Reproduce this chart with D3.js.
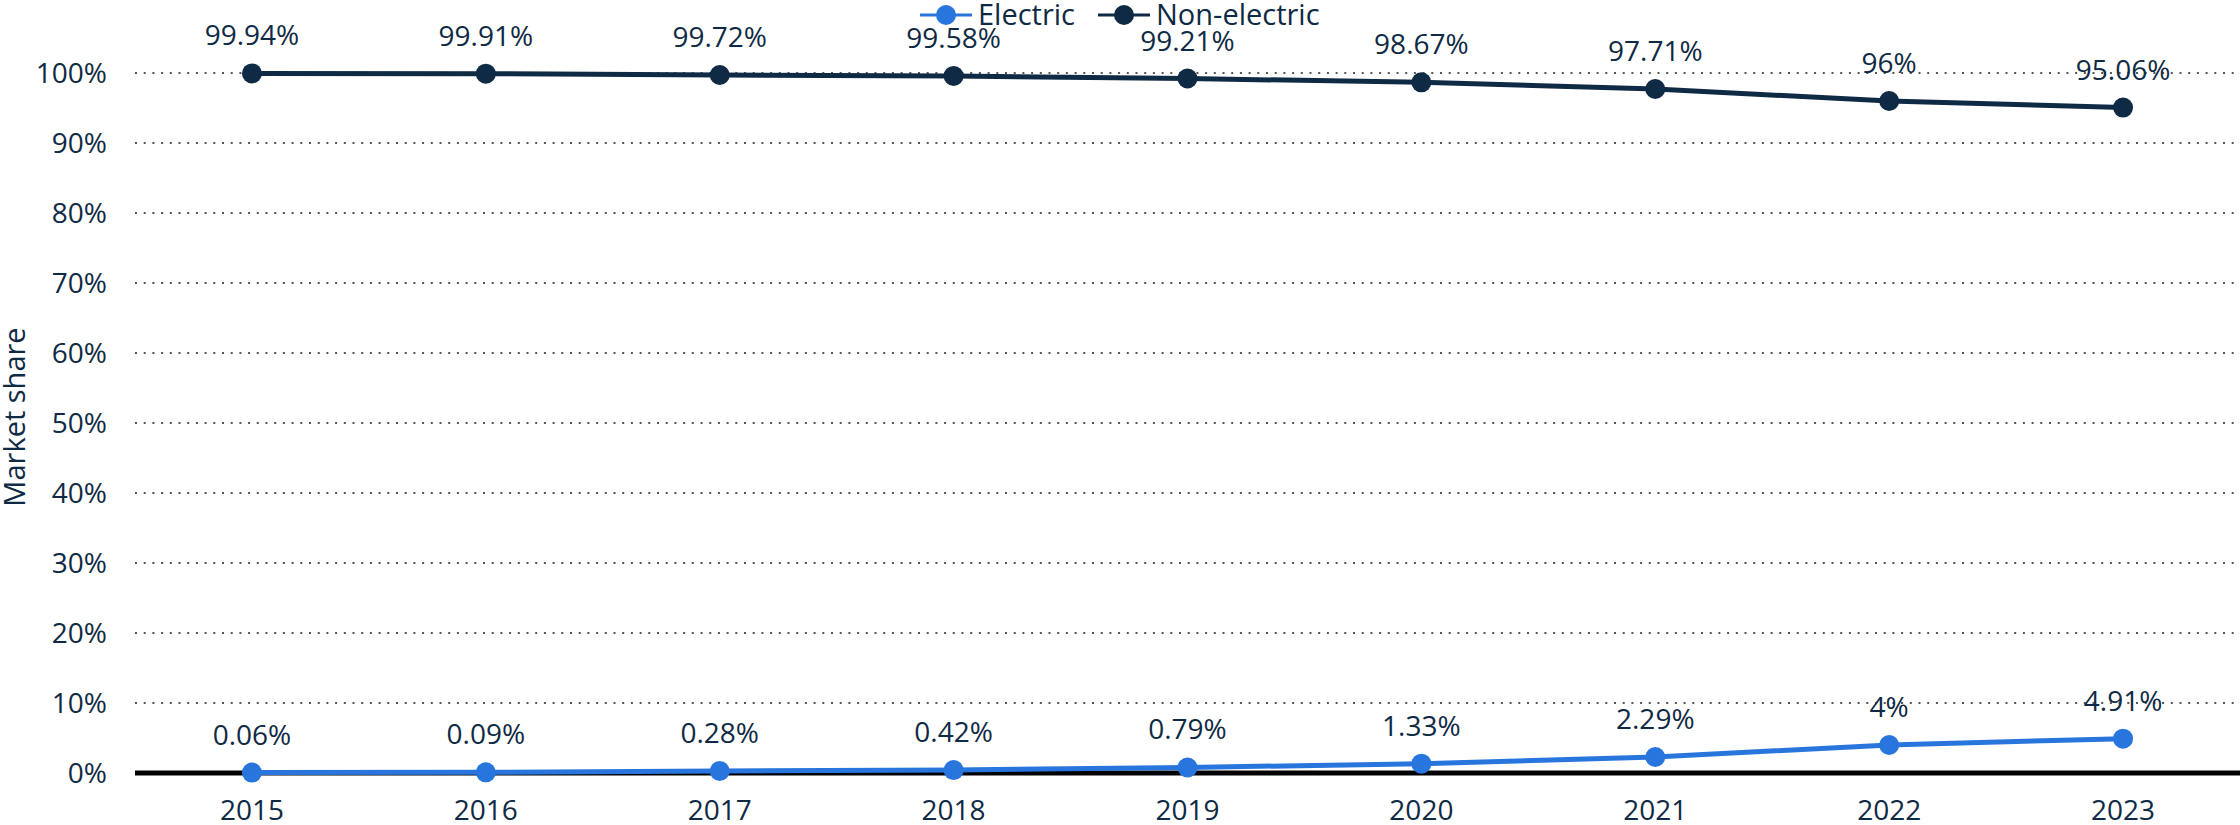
<!DOCTYPE html>
<html>
<head>
<meta charset="utf-8">
<script src="https://cdn.jsdelivr.net/npm/d3@7"></script>
<style>
  body { margin: 0; background: #fff; }
  text { font-family: "Open Sans", "Noto Sans", sans-serif; fill: #0f2a44; }
</style>
</head>
<body>
<svg id="chart" width="2240" height="825"></svg>
<script>
// values
const years = [2015, 2016, 2017, 2018, 2019, 2020, 2021, 2022, 2023];
const electric = [0.06, 0.09, 0.28, 0.42, 0.79, 1.33, 2.29, 4, 4.91];
const nonElectric = [99.94, 99.91, 99.72, 99.58, 99.21, 98.67, 97.71, 96, 95.06];
const yTicks = [0, 10, 20, 30, 40, 50, 60, 70, 80, 90, 100];

const series = [
  { name: 'Electric', values: electric, color: '#2876dd' },
  { name: 'Non-electric', values: nonElectric, color: '#0f2a44' }
];

var svg = d3.select('#chart');
var width = +svg.attr('width');
var height = +svg.attr('height');

var margin = { t: 73, r: 0, b: 52, l: 135 };

var x = d3.scalePoint()
  .domain(years)
  .range([margin.l, width - margin.r])
  .padding(0.5);

var y = d3.scaleLinear()
  .domain([0, 100])
  .range([height - margin.b, margin.t]);

// dotted gridlines
svg.append('g')
  .selectAll('line')
  .data(yTicks.filter(d => d > 0))
  .enter()
  .append('line')
  .attr('x1', margin.l)
  .attr('x2', width - margin.r)
  .attr('y1', d => y(d))
  .attr('y2', d => y(d))
  .attr('stroke', '#555')
  .attr('stroke-width', 2)
  .attr('stroke-dasharray', '2,6.7');

// y tick labels
svg.append('g')
  .selectAll('text')
  .data(yTicks)
  .enter()
  .append('text')
  .attr('x', 107)
  .attr('y', d => y(d))
  .attr('dy', '0.36em')
  .attr('text-anchor', 'end')
  .style('font-size', '28px')
  .text(d => d + '%');

// y title
svg.append('text')
  .attr('transform', 'translate(25, 417) rotate(-90)')
  .attr('text-anchor', 'middle')
  .style('font-size', '29px')
  .text('Market share');

// baseline
svg.append('line')
  .attr('x1', margin.l)
  .attr('x2', width - margin.r)
  .attr('y1', y(0))
  .attr('y2', y(0))
  .attr('stroke', '#000')
  .attr('stroke-width', 5);

// x tick labels
svg.append('g')
  .selectAll('text')
  .data(years)
  .enter()
  .append('text')
  .attr('x', d => x(d))
  .attr('y', 820)
  .attr('text-anchor', 'middle')
  .style('font-size', '28px')
  .text(d => d);

var line = d3.line()
  .x((d, i) => x(years[i]))
  .y(d => y(d));

// draw non-electric first, electric on top
series.slice().reverse().forEach(function(s) {
  var g = svg.append('g');
  g.append('path')
    .datum(s.values)
    .attr('d', line)
    .attr('fill', 'none')
    .attr('stroke', s.color)
    .attr('stroke-width', 5);
  g.selectAll('circle')
    .data(s.values)
    .enter()
    .append('circle')
    .attr('cx', (d, i) => x(years[i]))
    .attr('cy', d => y(d))
    .attr('r', 10)
    .attr('fill', s.color);
  g.selectAll('text')
    .data(s.values)
    .enter()
    .append('text')
    .attr('x', (d, i) => x(years[i]))
    .attr('y', d => y(d) - 28)
    .attr('text-anchor', 'middle')
    .style('font-size', '28px')
    .text(d => d + '%');
});

// legend
var legendPos = [920, 1098];
var legend = svg.append('g')
  .selectAll('g')
  .data(series)
  .enter()
  .append('g')
  .attr('transform', (d, i) => `translate(${legendPos[i]}, 15)`);
legend.append('line')
  .attr('x1', 0).attr('x2', 52)
  .attr('stroke', d => d.color)
  .attr('stroke-width', 3);
legend.append('circle')
  .attr('cx', 26)
  .attr('r', 10)
  .attr('fill', d => d.color);
legend.append('text')
  .attr('x', 58)
  .attr('y', 10)
  .style('font-size', '29px')
  .text(d => d.name);
</script>
</body>
</html>
